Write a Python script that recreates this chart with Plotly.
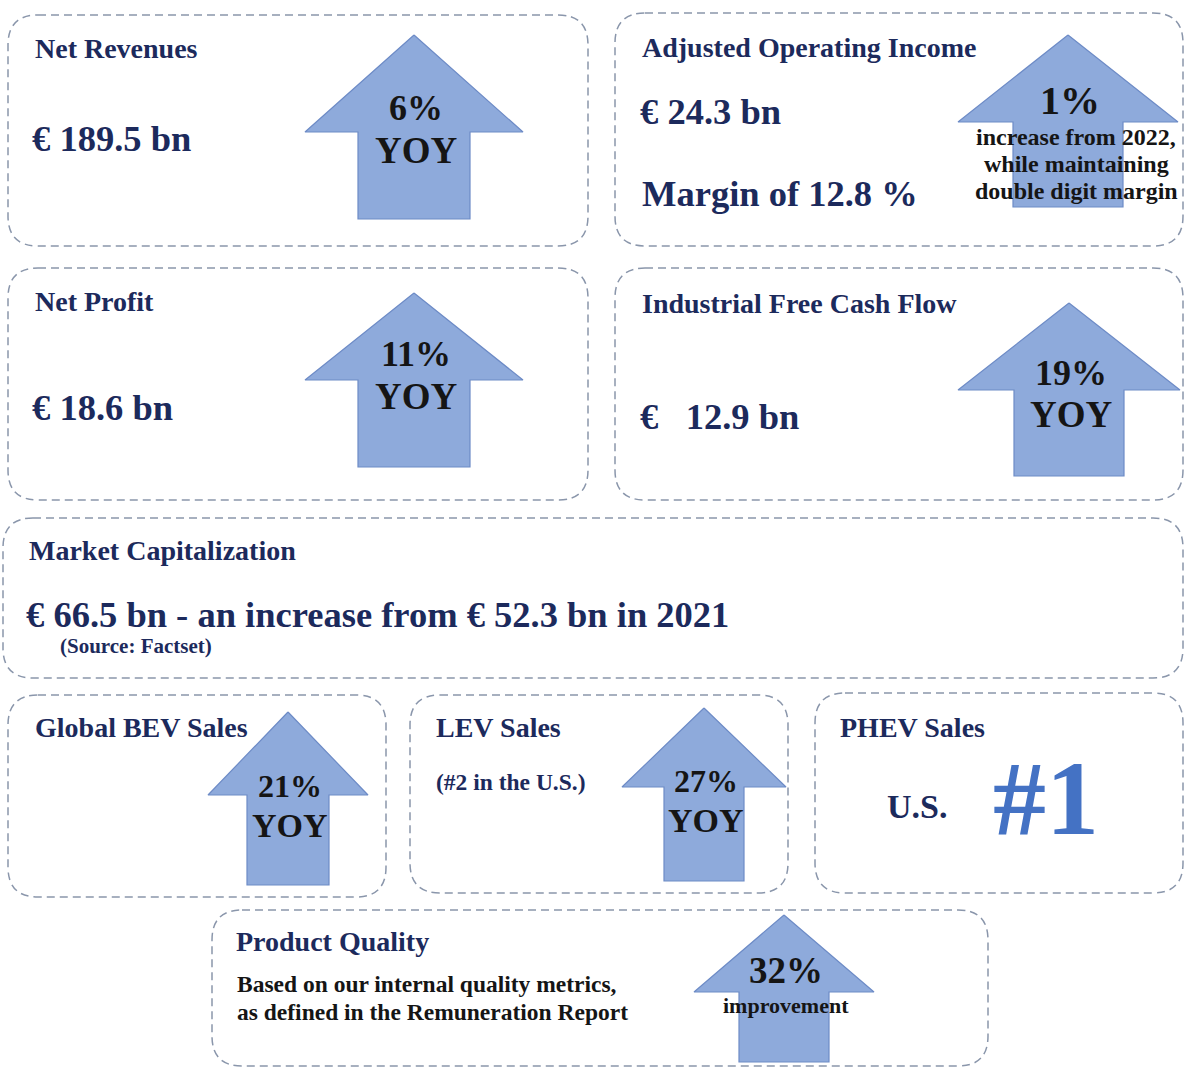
import plotly.graph_objects as go

W, H = 1186, 1068

# card contents
titles = ['Net Revenues', 'Adjusted Operating Income', 'Net Profit',
          'Industrial Free Cash Flow', 'Market Capitalization', 'Global BEV Sales',
          'LEV Sales', 'PHEV Sales', 'Product Quality']
values = ['€ 189.5 bn', '€ 24.3 bn', '€ 18.6 bn', '€   12.9 bn']
growth_pct = [6, 1, 11, 19, 21, 27, 32]
growth_note = ['YOY', '', 'YOY', 'YOY', 'YOY', 'YOY', 'improvement']
aoi_margin = 12.8
mcap_now, mcap_prev, mcap_year = 66.5, 52.3, 2021
aoi_note = ['increase from 2022,', 'while maintaining', 'double digit margin']
quality_note = ['Based on our internal quality metrics,',
                'as defined in the Remuneration Report']

NAVY = '#1c2a5c'
DARK = '#151515'
BLUE = '#4472c4'
SERIF = 'Liberation Serif'

# layout of cards: x0, y0, x1, y1
cards = [(8, 15, 588, 246), (615, 13, 1183, 246), (8, 268, 588, 500),
         (615, 268, 1183, 500), (3, 518, 1183, 678), (8, 695, 386, 897),
         (410, 695, 788, 893), (815, 693, 1183, 893), (212, 910, 988, 1066)]
title_pos = [(33, 48), (640, 47), (33, 301), (640, 303), (27, 550),
             (33, 727), (434, 727), (838, 727), (234, 941)]
value_pos = [(30, 138), (638, 111), (30, 407), (638, 416)]

# arrows: tip_x, tip_y, head_y, half_head, half_shaft, bottom
arrows = [(414, 35, 132, 109, 56, 219), (1068, 35, 122, 110, 55, 207),
          (414, 293, 380, 109, 56, 467), (1069, 303, 390, 111, 55, 476),
          (288, 712, 795, 80, 41, 885), (704, 708, 787, 82, 40, 881),
          (784, 915, 992, 90, 45, 1062)]
pct_pos = [108, 100, 354, 373, 786, 781, 970]
note_pos = [150, None, 396, 414, 825, 820, 1005]
pct_size = [36, 40, 36, 36, 32, 32, 37]
note_size = [37, 0, 37, 37, 34, 34, 22]


def rounded(x0, y0, x1, y1, r=30):
    return (f'M {x0 + r},{y0} L {x1 - r},{y0} Q {x1},{y0} {x1},{y0 + r} '
            f'L {x1},{y1 - r} Q {x1},{y1} {x1 - r},{y1} L {x0 + r},{y1} '
            f'Q {x0},{y1} {x0},{y1 - r} L {x0},{y0 + r} Q {x0},{y0} {x0 + r},{y0} Z')


fig = go.Figure()

for tx, ty, hy, hh, hs, by in arrows:
    xs = [tx, tx + hh, tx + hs, tx + hs, tx - hs, tx - hs, tx - hh, tx]
    ys = [ty, hy, hy, by, by, hy, hy, ty]
    fig.add_trace(go.Scatter(x=xs, y=ys, mode='lines', fill='toself',
                             fillcolor='#8eaadb', line=dict(color='#6d8bc6', width=1.2),
                             hoverinfo='skip', showlegend=False))

shapes = [dict(type='path', path=rounded(*c), xref='x', yref='y',
               line=dict(color='#8a96ab', width=1.5, dash='8px,5px'), layer='below')
          for c in cards]

ann = []


def text(x, y, s, size, color=NAVY, anchor='left'):
    ann.append(dict(x=x, y=y, xref='x', yref='y', text=s, showarrow=False,
                    xanchor=anchor, yanchor='middle',
                    font=dict(family=SERIF, size=size, color=color)))


for (x, y), t in zip(title_pos, titles):
    text(x, y, f'<b>{t}</b>', 28)
for (x, y), v in zip(value_pos, values):
    text(x, y, f'<b>{v}</b>', 36.5)
text(640, 193, f'<b>Margin of {aoi_margin} %</b>', 36.5)
text(24, 614, f'<b>€ {mcap_now} bn - an increase from € {mcap_prev} bn in {mcap_year}</b>', 36.5)
text(58, 646, '<b>(Source: Factset)</b>', 21)
text(434, 782, '<b>(#2 in the U.S.)</b>', 23.5)
text(885, 806, '<b>U.S.</b>', 34)
text(991, 798, '<b>#1</b>', 106, color=BLUE)
text(235, 984, f'<b>{quality_note[0]}</b>', 23.5, color=DARK)
text(235, 1012, f'<b>{quality_note[1]}</b>', 23.5, color=DARK)

for a, p, n, py, ny, ps, ns in zip(arrows, growth_pct, growth_note, pct_pos,
                                    note_pos, pct_size, note_size):
    cx = a[0] + 2
    text(cx, py, f'<b>{p}%</b>', ps, color=DARK, anchor='center')
    if n:
        text(cx, ny, f'<b>{n}</b>', ns, color=DARK, anchor='center')

for i, line in enumerate(aoi_note):
    text(1076, 137 + 27 * i, f'<b>{line}</b>', 24, color=DARK, anchor='center')

fig.update_layout(
    width=W, height=H, margin=dict(l=0, r=0, t=0, b=0),
    paper_bgcolor='white', plot_bgcolor='white',
    xaxis=dict(range=[0, W], visible=False, fixedrange=True),
    yaxis=dict(range=[H, 0], visible=False, fixedrange=True),
    shapes=shapes, annotations=ann, showlegend=False)

# drop the browser's default body margin so the figure sits at the page corner
fig.write_html('out.html', config={'displayModeBar': False},
               post_script="document.body.style.margin='0';"
                           "document.body.style.overflow='hidden';")
